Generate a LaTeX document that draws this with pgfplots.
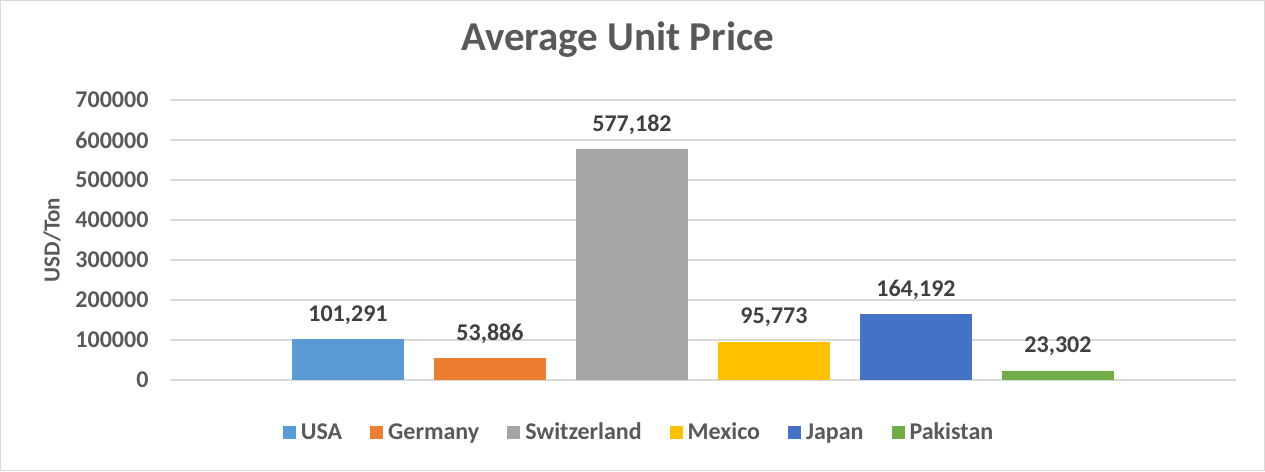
\documentclass[border=0pt]{standalone}
\usepackage{pgfplots}
\pgfplotsset{compat=1.18}
\usepackage{fontspec}
\setmainfont{Carlito}
\definecolor{cUSA}{HTML}{5B9BD5}
\definecolor{cGER}{HTML}{ED7D31}
\definecolor{cSUI}{HTML}{A5A5A5}
\definecolor{cMEX}{HTML}{FFC000}
\definecolor{cJPN}{HTML}{4472C4}
\definecolor{cPAK}{HTML}{70AD47}
\definecolor{txt}{HTML}{595959}
\definecolor{lbl}{HTML}{404040}
\definecolor{grd}{HTML}{D9D9D9}
\begin{document}
\begin{tikzpicture}
\path[use as bounding box] (-170pt,-91pt) rectangle (1095pt,380pt);
\begin{axis}[
  at={(0,0)}, anchor=south west,
  scale only axis, width=1066pt, height=280pt,
  ybar, bar width=112pt, bar shift=0pt,
  xmin=-0.2535, xmax=7.254,
  ymin=0, ymax=700000,
  ytick={0,100000,...,700000},
  scaled y ticks=false,
  xtick=\empty,
  axis line style={draw=none},
  major tick length=0pt,
  ymajorgrids, grid style={grd, line width=1.4pt},
  /pgf/number format/assume math mode=true,
  yticklabel style={font=\fontsize{24}{28}\selectfont\bfseries, text=txt, /pgf/number format/fixed, /pgf/number format/1000 sep={}, xshift=-18pt},
  ylabel={USD/Ton},
  every axis y label/.style={at={(axis description cs:-0.1107,0.5)}, rotate=90, anchor=center, font=\fontsize{23}{27}\selectfont\bfseries, text=txt},
  title={Average Unit Price},
  title style={at={(axis description cs:0.42,1.196)}, anchor=center, font=\fontsize{41}{46}\selectfont\bfseries, text=txt},
  nodes near coords,
  nodes near coords style={font=\fontsize{24}{28}\selectfont\bfseries, text=lbl, /pgf/number format/fixed, /pgf/number format/1000 sep={,}, anchor=south, yshift=11pt},
  legend columns=6,
  legend style={at={(axis description cs:0.44,-0.186)}, anchor=center, draw=none, font=\fontsize{24}{28}\selectfont\bfseries, text=txt, column sep=3pt, /tikz/every even column/.append style={column sep=26pt}},
  legend image code/.code={\fill[#1] (0pt,-6.5pt) rectangle (13pt,6.5pt);},
]
\addplot[fill=cUSA, draw=none] coordinates {(1,101291)};
\addplot[fill=cGER, draw=none] coordinates {(2,53886)};
\addplot[fill=cSUI, draw=none] coordinates {(3,577182)};
\addplot[fill=cMEX, draw=none] coordinates {(4,95773)};
\addplot[fill=cJPN, draw=none] coordinates {(5,164192)};
\addplot[fill=cPAK, draw=none] coordinates {(6,23302)};
\legend{USA,Germany,Switzerland,Mexico,Japan,Pakistan}
\end{axis}
\draw[grd, line width=1.5pt] (-169.25pt,-90.25pt) rectangle (1094.25pt,379.25pt);
\end{tikzpicture}
\end{document}
